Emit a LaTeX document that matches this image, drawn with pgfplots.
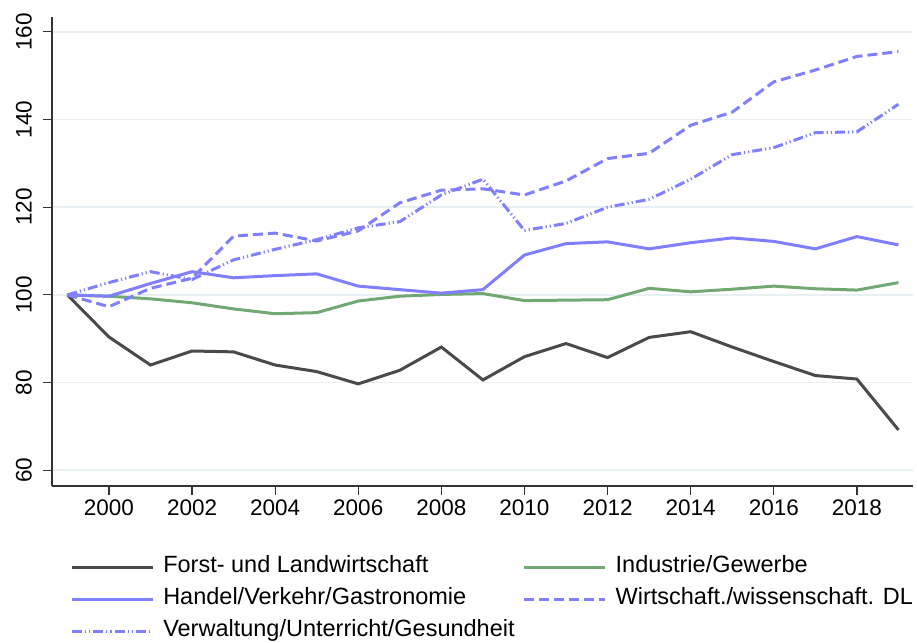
\documentclass[border=0pt]{standalone}
\usepackage{fontspec}
\setmainfont{Liberation Sans}
\usepackage{pgfplots}
\pgfplotsset{compat=1.18}
\definecolor{forst}{HTML}{4A4A4A}
\definecolor{indu}{HTML}{72A872}
\definecolor{hblue}{HTML}{7F7FFF}
\definecolor{gridc}{HTML}{E9F0F3}
\definecolor{axc}{HTML}{333333}
\begin{document}
\fontsize{22}{26}\selectfont
\begin{tikzpicture}
\begin{axis}[
  scale only axis, width=861pt, height=469pt,
  xmin=1998.63, xmax=2019.35, ymin=56.4, ymax=163.4,
  axis x line*=bottom, axis y line*=left,
  axis line style={axc, line width=1.2pt},
  xtick={2000,2002,...,2018}, ytick={60,80,...,160},
  tick align=outside, tick style={axc, line width=1.2pt},
  major tick length=9pt,
  ymajorgrids, grid style={gridc, line width=1.5pt},
  /pgf/number format/assume math mode=true,
  every tick label/.append style={font=\fontsize{22.5}{26}\selectfont},
  xticklabel style={/pgf/number format/1000 sep={}, anchor=north, inner sep=0pt},
  yticklabel style={rotate=90, anchor=south, inner sep=0pt},
  xticklabel shift=5pt, yticklabel shift=11pt,
  legend columns=2,
  legend cell align=left,
  legend style={at={(0.0175,-0.1415)}, anchor=north west, draw=none, fill=none,
    font=\fontsize{23.5}{28}\selectfont,
    nodes={inner sep=2pt, text height=0.72em, text depth=0.24em},
    row sep=7pt,
    /tikz/every odd column/.append style={column sep=7pt},
    /tikz/every even column/.append style={column sep=6pt}},
  legend image code/.code={\draw[#1] (0pt,0pt) -- (81pt,0pt);},
]
\addplot[forst, line width=3pt] coordinates {
(1999,100) (2000,90.4) (2001,84.0) (2002,87.2) (2003,87.0) (2004,84.0) (2005,82.5)
(2006,79.7) (2007,82.8) (2008,88.1) (2009,80.6) (2010,85.9) (2011,88.9) (2012,85.7)
(2013,90.3) (2014,91.6) (2015,88.1) (2016,84.8) (2017,81.6) (2018,80.8) (2019,69.2)};
\addlegendentry{Forst- und Landwirtschaft}
\addplot[indu, line width=3pt] coordinates {
(1999,100) (2000,99.7) (2001,99.1) (2002,98.2) (2003,96.8) (2004,95.7) (2005,95.95)
(2006,98.6) (2007,99.7) (2008,100.1) (2009,100.3) (2010,98.7) (2011,98.8) (2012,98.9)
(2013,101.5) (2014,100.7) (2015,101.3) (2016,102.0) (2017,101.4) (2018,101.1) (2019,102.8)};
\addlegendentry{Industrie/Gewerbe}
\addplot[hblue, line width=3pt] coordinates {
(1999,100) (2000,99.7) (2001,102.6) (2002,105.3) (2003,103.9) (2004,104.4) (2005,104.8)
(2006,102.0) (2007,101.2) (2008,100.4) (2009,101.2) (2010,109.1) (2011,111.7) (2012,112.1)
(2013,110.5) (2014,111.9) (2015,113.0) (2016,112.2) (2017,110.5) (2018,113.3) (2019,111.4)};
\addlegendentry{Handel/Verkehr/Gastronomie}
\addplot[hblue, line width=3pt, dash pattern=on 10pt off 5pt] coordinates {
(1999,100) (2000,97.3) (2001,101.5) (2002,103.8) (2003,113.4) (2004,114.1) (2005,112.3)
(2006,114.6) (2007,121.0) (2008,123.9) (2009,124.2) (2010,122.8) (2011,126.0) (2012,131.1)
(2013,132.3) (2014,138.7) (2015,141.7) (2016,148.6) (2017,151.3) (2018,154.4) (2019,155.5)};
\addlegendentry{Wirtschaft./wissenschaft. DL}
\addplot[hblue, line width=3pt, dash pattern=on 10pt off 3pt on 1.2pt off 3pt on 1.2pt off 3pt] coordinates {
(1999,100) (2000,102.8) (2001,105.3) (2002,103.5) (2003,108.0) (2004,110.4) (2005,112.6)
(2006,115.3) (2007,116.7) (2008,122.8) (2009,126.4) (2010,114.7) (2011,116.3) (2012,120.0)
(2013,121.8) (2014,126.4) (2015,132.0) (2016,133.6) (2017,137.0) (2018,137.2) (2019,143.5)};
\addlegendentry{Verwaltung/Unterricht/Gesundheit}
\end{axis}
\pgfresetboundingbox
\path (-52pt,-156pt) rectangle (865pt,486pt);
\end{tikzpicture}
\end{document}
